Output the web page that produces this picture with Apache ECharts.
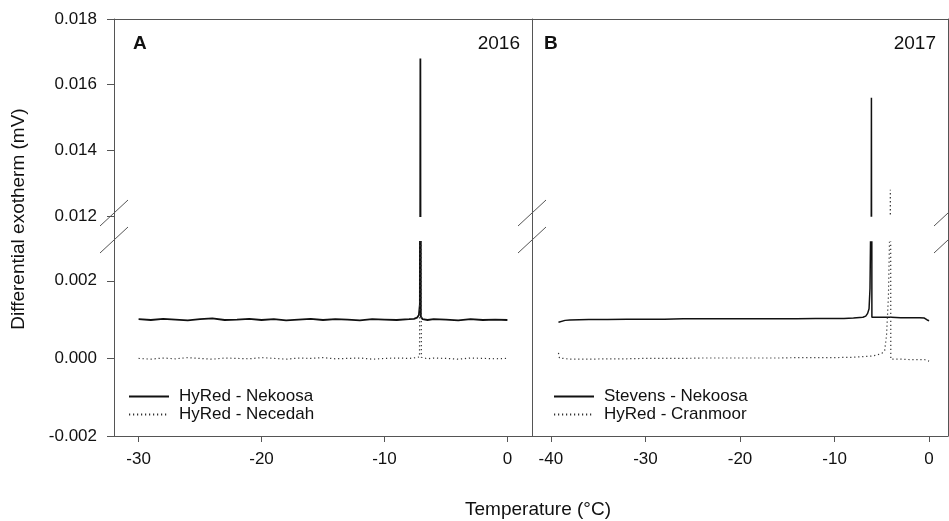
<!DOCTYPE html>
<html>
<head>
<meta charset="utf-8">
<script src="https://cdn.jsdelivr.net/npm/echarts@6/dist/echarts.min.js"></script>
<style>
  html, body { margin: 0; padding: 0; background: #fff; }
  #chart { width: 949px; height: 521px; }
</style>
</head>
<body>
<div id="chart"></div>
<script>
// ---- data ----
// 2016, panel A
const aNekoosaTemp = [-30,-29,-28,-27,-26,-25,-24,-23,-22,-21,-20,-19,-18,-17,-16,-15,-14,-13,-12,-11,-10,-9,-8,-7.6,-7.35,-7.2,-7.12,-7.08,-7.04,-6.9,-6.5,-6,-5,-4,-3,-2,-1,0];
const aNekoosaVal  = [0.00101,0.00099,0.00102,0.00100,0.00098,0.00101,0.00103,0.00099,0.00100,0.00102,0.00099,0.00101,0.00098,0.00100,0.00102,0.00099,0.00101,0.00100,0.00098,0.00101,0.00100,0.00099,0.00101,0.00102,0.00105,0.00112,0.0014,0.0168,0.00108,0.00101,0.00099,0.00101,0.00100,0.00098,0.00101,0.00099,0.00100,0.00099];
const aNecedahTemp = [-30,-29,-28,-27,-26,-25,-24,-23,-22,-21,-20,-19,-18,-17,-16,-15,-14,-13,-12,-11,-10,-9,-8,-7.4,-7.15,-7.06,-7.0,-6.9,-6.5,-6,-5,-4,-3,-2,-1,0];
const aNecedahVal  = [0.00000,-0.00002,0.00001,-0.00001,0.00002,0.00000,-0.00002,0.00001,0.00000,-0.00001,0.00002,0.00000,-0.00002,0.00001,0.00000,0.00002,-0.00001,0.00000,0.00001,-0.00002,0.00000,0.00001,0.00000,0.00002,0.00004,0.0095,0.00003,0.00000,-0.00001,0.00001,0.00000,-0.00002,0.00001,0.00000,-0.00001,0.00000];

// 2017, panel B
const bStevensTemp = [-39.2,-39,-38.5,-38,-36,-34,-32,-30,-28,-26,-24,-22,-20,-18,-16,-14,-12,-10,-9,-8,-7,-6.7,-6.5,-6.35,-6.25,-6.15,-6.1,-6.05,-5,-4,-3,-2,-1,-0.5,-0.2,0];
const bStevensVal  = [0.00093,0.00096,0.00098,0.00099,0.00100,0.00100,0.00101,0.00101,0.00101,0.00102,0.00102,0.00102,0.00102,0.00102,0.00102,0.00102,0.00103,0.00103,0.00103,0.00104,0.00106,0.00109,0.00116,0.00128,0.0018,0.0040,0.0156,0.00106,0.00106,0.00106,0.00105,0.00105,0.00105,0.00104,0.00099,0.00097];
const bCranmoorTemp = [-39.2,-39.1,-39,-38,-36,-34,-32,-30,-28,-26,-24,-22,-20,-18,-16,-14,-12,-10,-8,-6,-5.5,-5,-4.7,-4.5,-4.3,-4.15,-4.1,-4.05,-3.5,-3,-2,-1,-0.5,-0.2,0];
const bCranmoorVal  = [0.00014,0.00001,-0.00002,-0.00002,-0.00002,-0.00001,-0.00001,0.00000,0.00000,0.00000,0.00001,0.00001,0.00001,0.00001,0.00001,0.00002,0.00002,0.00002,0.00003,0.00006,0.00009,0.00013,0.00020,0.0006,0.0016,0.0035,0.0128,-0.00002,-0.00002,-0.00002,-0.00003,-0.00003,-0.00003,-0.00006,-0.00007];

const aXTicks = [-30, -20, -10, 0];
const bXTicks = [-40, -30, -20, -10, 0];
const upperYTicks = [0.012, 0.014, 0.016, 0.018];
const lowerYTicks = [-0.002, 0.000, 0.002];

const seriesNames = {
  aSolid: 'HyRed - Nekoosa',
  aDot: 'HyRed - Necedah',
  bSolid: 'Stevens - Nekoosa',
  bDot: 'HyRed - Cranmoor'
};

// ---- layout ----
const FONT = '"Liberation Sans", Arial, sans-serif';
const AXIS_COLOR = '#555';
const panelA = { left: 114, right: 532 };
const panelB = { left: 532, right: 948 };
const upperBox = { top: 19, bottom: 216 };
const lowerBox = { top: 242, bottom: 436 };

const zip = (xs, ys) => xs.map((x, i) => [x, ys[i]]);

const makeGrid = (panel, box) => ({
  left: panel.left,
  width: panel.right - panel.left,
  top: box.top,
  height: box.bottom - box.top
});

const hiddenAxis = (extra) => Object.assign({
  type: 'value',
  axisLine: { show: false, onZero: false },
  axisTick: { show: false },
  axisLabel: { show: false },
  splitLine: { show: false }
}, extra);

const lineOnlyAxis = (extra) => Object.assign({
  type: 'value',
  axisLine: { show: true, onZero: false, lineStyle: { color: AXIS_COLOR, width: 1 } },
  axisTick: { show: false },
  axisLabel: { show: false },
  splitLine: { show: false }
}, extra);

const xTickAxis = (gridIndex, min, max, ticks) => ({
  type: 'value',
  gridIndex: gridIndex,
  min: min,
  max: max,
  position: 'bottom',
  axisLine: { show: true, onZero: false, lineStyle: { color: AXIS_COLOR, width: 1 } },
  axisTick: { show: true, customValues: ticks, length: 6, lineStyle: { color: AXIS_COLOR } },
  axisLabel: { show: true, customValues: ticks, margin: 15, color: '#111', fontSize: 17, fontFamily: FONT },
  splitLine: { show: false }
});

const yTickAxis = (gridIndex, min, max, ticks) => ({
  type: 'value',
  gridIndex: gridIndex,
  min: min,
  max: max,
  position: 'left',
  axisLine: { show: false, onZero: false },
  axisTick: { show: true, customValues: ticks, length: 7, lineStyle: { color: AXIS_COLOR } },
  axisLabel: {
    show: true, customValues: ticks, margin: 17, color: '#111', fontSize: 17, fontFamily: FONT,
    formatter: (v) => v.toFixed(3)
  },
  splitLine: { show: false }
});

const solidStyle = (w) => ({ color: '#111', width: w, type: 'solid' });
const dotStyle = { color: '#333', width: 1.2, type: [1.2, 2.8] };

const mkSeries = (name, data, xi, yi, style) => ({
  name: name,
  type: 'line',
  data: data,
  xAxisIndex: xi,
  yAxisIndex: yi,
  symbol: 'none',
  clip: true,
  silent: true,
  animation: false,
  lineStyle: style,
  itemStyle: { color: style.color }
});

const aSolid = zip(aNekoosaTemp, aNekoosaVal);
const aDot = zip(aNecedahTemp, aNecedahVal);
const bSolid = zip(bStevensTemp, bStevensVal);
const bDot = zip(bCranmoorTemp, bCranmoorVal);

// slashes marking the broken y axis
const breakMarks = [];
[panelA.left, panelB.left, panelB.right].forEach((x) => {
  [upperBox.bottom - 3, lowerBox.top - 2].forEach((y) => {
    breakMarks.push({
      type: 'line',
      shape: { x1: x - 14, y1: y + 13, x2: x + 14, y2: y - 13 },
      style: { stroke: AXIS_COLOR, lineWidth: 1 },
      silent: true
    });
  });
});

const textStyle = (size, weight) => ({
  fontSize: size, fontFamily: FONT, fontWeight: weight || 'normal', fill: '#111'
});

const legendFor = (left, names) => ({
  left: left, top: 388, orient: 'vertical', padding: 0,
  itemWidth: 40, itemHeight: 17, itemGap: 1,
  data: names,
  itemStyle: { opacity: 0, borderWidth: 0 },
  textStyle: { fontSize: 17, fontFamily: FONT, color: '#111', padding: [0, 0, 0, 5] },
  selectedMode: false
});

const chart = echarts.init(document.getElementById('chart'), null, { renderer: 'canvas' });

const option = {
  animation: false,
  backgroundColor: '#fff',
  grid: [
    makeGrid(panelA, upperBox),   // 0
    makeGrid(panelA, lowerBox),   // 1
    makeGrid(panelB, upperBox),   // 2
    makeGrid(panelB, lowerBox),   // 3
    makeGrid(panelA, { top: upperBox.top, bottom: lowerBox.bottom }), // 4 frame A
    makeGrid(panelB, { top: upperBox.top, bottom: lowerBox.bottom })  // 5 frame B
  ],
  xAxis: [
    hiddenAxis({ gridIndex: 0, min: -32, max: 2 }),
    xTickAxis(1, -32, 2, aXTicks),
    hiddenAxis({ gridIndex: 2, min: -42, max: 2 }),
    xTickAxis(3, -42, 2, bXTicks),
    lineOnlyAxis({ gridIndex: 4, position: 'top', min: 0, max: 1 }),
    lineOnlyAxis({ gridIndex: 5, position: 'top', min: 0, max: 1 })
  ],
  yAxis: [
    yTickAxis(0, 0.012, 0.018, upperYTicks),
    yTickAxis(1, -0.002, 0.003, lowerYTicks),
    hiddenAxis({ gridIndex: 2, min: 0.012, max: 0.018 }),
    hiddenAxis({ gridIndex: 3, min: -0.002, max: 0.003 }),
    lineOnlyAxis({ gridIndex: 4, position: 'left', min: 0, max: 1 }),
    lineOnlyAxis({ gridIndex: 4, position: 'right', min: 0, max: 1 }),
    lineOnlyAxis({ gridIndex: 5, position: 'right', min: 0, max: 1 })
  ],
  legend: [
    legendFor(128, [seriesNames.aSolid, seriesNames.aDot]),
    legendFor(553, [seriesNames.bSolid, seriesNames.bDot])
  ],
  series: [
    mkSeries(seriesNames.aSolid, aSolid, 0, 0, solidStyle(1.8)),
    mkSeries(seriesNames.aSolid, aSolid, 1, 1, solidStyle(1.8)),
    mkSeries(seriesNames.aDot, aDot, 0, 0, dotStyle),
    mkSeries(seriesNames.aDot, aDot, 1, 1, dotStyle),
    mkSeries(seriesNames.bSolid, bSolid, 2, 2, solidStyle(1.5)),
    mkSeries(seriesNames.bSolid, bSolid, 3, 3, solidStyle(1.5)),
    mkSeries(seriesNames.bDot, bDot, 2, 2, dotStyle),
    mkSeries(seriesNames.bDot, bDot, 3, 3, dotStyle)
  ],
  graphic: breakMarks.concat([
    { type: 'text', x: 133, y: 44, style: Object.assign({ text: 'A', verticalAlign: 'middle' }, textStyle(19, 'bold')) },
    { type: 'text', x: 520, y: 44, style: Object.assign({ text: '2016', align: 'right', verticalAlign: 'middle' }, textStyle(19)) },
    { type: 'text', x: 544, y: 44, style: Object.assign({ text: 'B', verticalAlign: 'middle' }, textStyle(19, 'bold')) },
    { type: 'text', x: 936, y: 44, style: Object.assign({ text: '2017', align: 'right', verticalAlign: 'middle' }, textStyle(19)) },
    { type: 'text', x: 538, y: 510, style: Object.assign({ text: 'Temperature (°C)', align: 'center', verticalAlign: 'middle' }, textStyle(19)) },
    {
      type: 'text', x: 19, y: 219, rotation: Math.PI / 2,
      style: Object.assign({ text: 'Differential exotherm (mV)', align: 'center', verticalAlign: 'middle' }, textStyle(19))
    }
  ])
};

chart.setOption(option);
</script>
</body>
</html>
